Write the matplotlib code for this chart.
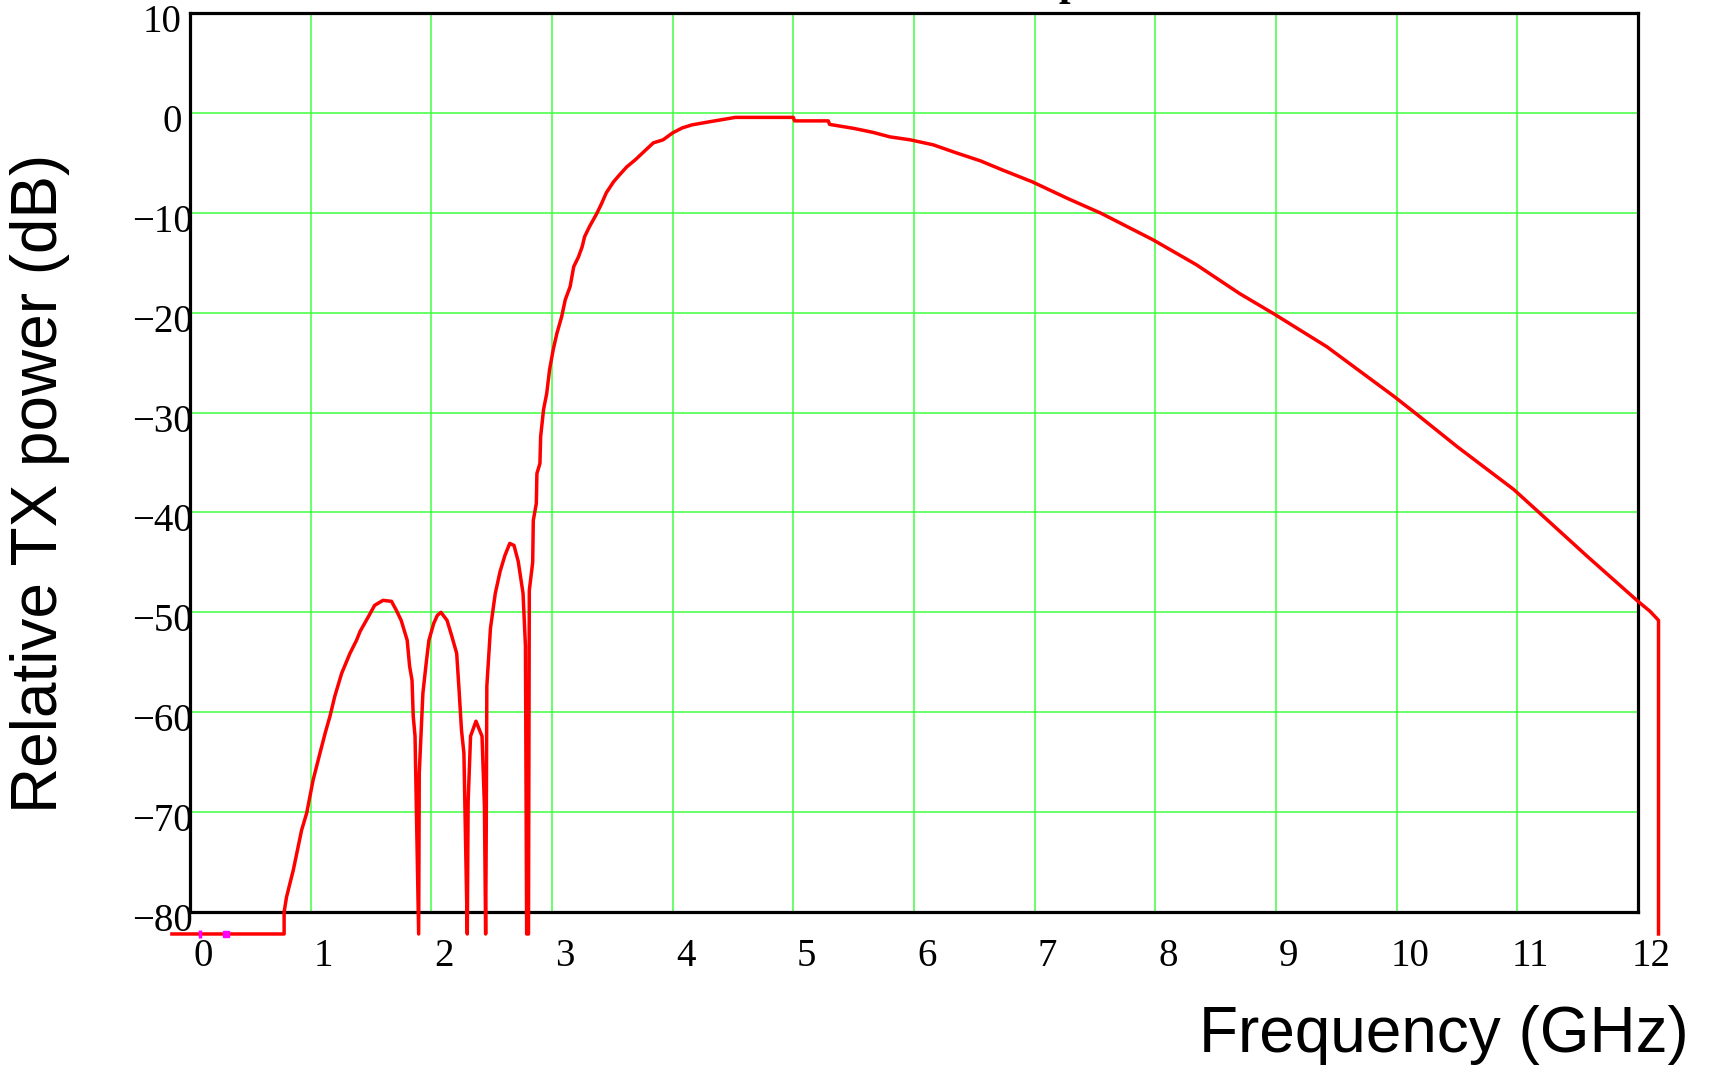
import numpy as np
import matplotlib.pyplot as plt
from matplotlib.transforms import ScaledTranslation

# spectrum (GHz, dB); floor value marks the nulls
freq_ghz = [-0.15, 0.78, 0.78, 0.80, 0.856, 0.925, 0.967, 1.02, 1.077, 1.12,
            1.16, 1.20, 1.257, 1.326, 1.38, 1.41, 1.48, 1.53, 1.60, 1.67,
            1.71, 1.75, 1.80, 1.82, 1.84, 1.85, 1.865, 1.895, 1.90, 1.93,
            1.96, 1.98, 2.02, 2.05, 2.08, 2.13, 2.17, 2.21, 2.23, 2.25,
            2.27, 2.298, 2.305, 2.325, 2.37, 2.42, 2.44, 2.45, 2.455, 2.46,
            2.49, 2.53, 2.57, 2.61, 2.65, 2.685, 2.72, 2.76, 2.78, 2.79,
            2.805, 2.812, 2.84, 2.845, 2.87, 2.875, 2.90, 2.906, 2.93, 2.956,
            2.98, 3.01, 3.04, 3.08, 3.11, 3.15, 3.18, 3.22, 3.25, 3.27,
            3.31, 3.37, 3.41, 3.45, 3.51, 3.56, 3.62, 3.69, 3.76, 3.84,
            3.92, 4.00, 4.08, 4.16, 4.30, 4.52, 5.00, 5.01, 5.29, 5.30,
            5.50, 5.66, 5.80, 5.97, 6.16, 6.35, 6.55, 6.73, 6.98, 7.27,
            7.55, 7.98, 8.34, 8.70, 8.98, 9.42, 9.98, 10.18, 10.50, 10.97,
            11.18, 11.58, 12.00, 12.10, 12.17, 12.17]
power_db = [-82.2, -82.2, -80.0, -78.5, -75.8, -71.8, -70.1, -66.8, -64.1, -62.1,
            -60.4, -58.4, -56.1, -54.1, -52.8, -51.9, -50.4, -49.3, -48.8, -48.9,
            -49.8, -50.8, -52.8, -55.4, -56.8, -60.4, -62.4, -82.2, -66.1, -58.1,
            -54.8, -52.8, -51.1, -50.3, -50.0, -50.8, -52.4, -54.1, -57.8, -61.8,
            -64.1, -82.2, -69.0, -62.4, -60.9, -62.4, -69.4, -82.2, -72.1, -57.4,
            -51.6, -48.1, -45.9, -44.3, -43.1, -43.3, -44.9, -48.1, -53.4, -82.2,
            -82.2, -47.8, -45.0, -40.8, -39.1, -36.1, -35.1, -32.4, -29.7, -28.1,
            -25.7, -23.7, -22.1, -20.4, -18.7, -17.4, -15.4, -14.4, -13.4, -12.4,
            -11.4, -10.1, -9.1, -8.0, -6.9, -6.2, -5.4, -4.7, -3.9, -3.0,
            -2.7, -2.0, -1.5, -1.2, -0.9, -0.45, -0.45, -0.8, -0.8, -1.15,
            -1.55, -1.95, -2.4, -2.7, -3.2, -4.0, -4.8, -5.7, -6.9, -8.55,
            -10.05, -12.7, -15.2, -18.1, -20.1, -23.4, -28.4, -30.3, -33.4, -37.7,
            -40.0, -44.4, -48.9, -49.9, -50.8, -82.2]

# trace cursor marks sitting on the floor line
cursor_ghz = [0.08, 0.30]
cursor_db = [-82.2, -82.2]

x_ticks = list(range(0, 13))
y_ticks = list(range(-80, 11, 10))
y_labels = [f"\u2212{abs(v)}" if v < 0 else str(v) for v in y_ticks]

W, H = 1711, 1065
fig = plt.figure(figsize=(W / 100, H / 100), dpi=100)
ax = fig.add_axes([190 / W, 1 - 912 / H, (1638 - 190) / W, (912 - 13) / H])

ax.plot(freq_ghz, power_db, color='#ff0000', lw=2.5, clip_on=False, zorder=5)
ax.plot(cursor_ghz[:1], cursor_db[:1], ls='none', marker='|', ms=6, mew=2.5,
        color='#ff00ff', clip_on=False, zorder=6)
ax.plot(cursor_ghz[1:], cursor_db[1:], ls='none', marker='s', ms=5,
        color='#ff00ff', clip_on=False, zorder=6)

ax.set_xlim(0, 12)
ax.set_ylim(-80, 10)
ax.set_xticks(x_ticks, [str(v) for v in x_ticks])
ax.set_yticks(y_ticks, y_labels)
ax.grid(True, color='#40ff40', lw=1.1)
ax.set_axisbelow(True)
for s in ax.spines.values():
    s.set_linewidth(2.3)
    s.set_color('black')

serif = 'Liberation Serif'
ax.tick_params(axis='x', length=0, pad=19, labelsize=28)
ax.tick_params(axis='y', length=0, pad=6, labelsize=28)
for lbl in ax.get_xticklabels():
    lbl.set_fontfamily(serif)
    lbl.set_transform(lbl.get_transform() + ScaledTranslation(0.13, 0, fig.dpi_scale_trans))
for lbl in ax.get_yticklabels():
    lbl.set_fontfamily(serif)
    dx = 0.11 if lbl.get_text().startswith('\u2212') else 0.0
    lbl.set_transform(lbl.get_transform() + ScaledTranslation(dx, -0.05, fig.dpi_scale_trans))

fig.text(1689 / W, 1 - 1052 / H, 'Frequency (GHz)', ha='right', va='baseline',
         fontsize=46, family='Liberation Sans')
fig.text(40 / W, 1 - 483 / H, 'Relative TX power (dB)', rotation=90,
         ha='center', va='center', fontsize=46, family='Liberation Sans')
# title mostly cut off at the top edge, only a descender shows
fig.text(1070 / W, 1 + 5 / H, 'p', ha='center', va='baseline',
         fontsize=30, family=serif, fontweight='bold')

fig.savefig('out.png', dpi=100)
